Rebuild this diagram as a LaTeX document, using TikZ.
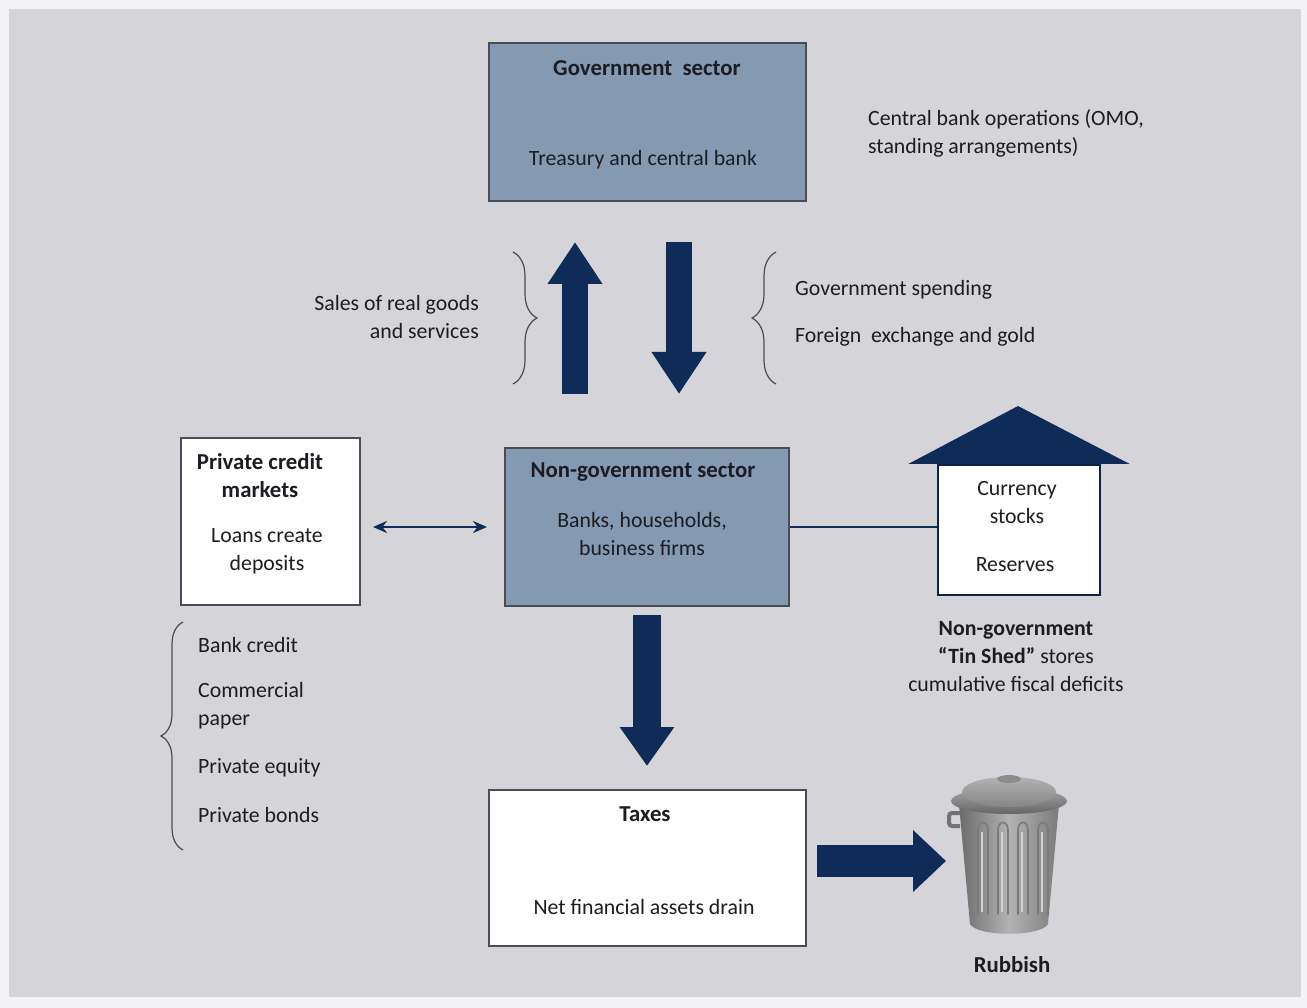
\documentclass[tikz,border=0pt]{standalone}
\usepackage{fontspec}
\setmainfont{Carlito}
\usetikzlibrary{arrows.meta,decorations.pathreplacing,calc}

\definecolor{navy}{HTML}{0F2B57}
\definecolor{steel}{HTML}{8499B2}
\definecolor{panel}{HTML}{D4D4D9}
\definecolor{paper}{HTML}{F3F3F5}
\definecolor{ink}{HTML}{1C1C22}
\definecolor{frame}{HTML}{4C4C56}

\tikzset{
  bluebox/.style={draw=frame, line width=2pt, fill=steel, inner sep=0pt},
  whitebox/.style={draw=frame, line width=2pt, fill=white, inner sep=0pt},
  shedbox/.style={draw=navy!80!black, line width=2.5pt, fill=white, inner sep=0pt},
  txt/.style={text=ink, inner sep=1pt},
  ttl/.style={txt, font=\fontsize{22.8}{28}\selectfont\bfseries},
  vbig/.style={navy, line width=26pt, -{Triangle[width=52pt,length=42pt]}},
  thin arrow/.style={navy, line width=2.5pt, {Stealth[width=12pt,length=14pt]}-{Stealth[width=12pt,length=14pt]}},
  bracestyle/.style={draw=black!70, line width=1.2pt, decorate},
}

\begin{document}
\begin{tikzpicture}[x=1pt, y=-1pt, font=\fontsize{21.8}{28}\selectfont]
  % page and panel
  \fill[paper] (0,0) rectangle (1307,1008);
  \fill[panel] (9,9) rectangle (1301,997);
  \useasboundingbox (0,0) rectangle (1307,1008);

  % government sector
  \node[bluebox, minimum width=317pt, minimum height=158pt] (gov) at (647.5,122) {};
  \node[ttl] (govt) at (647,68) {Government\ \ sector};
  \node[txt] (govb) at (643,160) {Treasury and central bank};

  \node[txt, anchor=west, align=left] (cbops) at (867,133)
    {Central bank operations (OMO,\\standing arrangements)};

  % non-government sector
  \node[bluebox, minimum width=284pt, minimum height=158pt] (ngov) at (647,527) {};
  \node[ttl] (ngovt) at (643,472) {Non-government sector};
  \node[txt, align=center] (ngovb) at (642,534) {Banks, households,\\business firms};

  % private credit markets
  \node[whitebox, minimum width=179pt, minimum height=167pt] (pcm) at (270.5,521.5) {};
  \node[ttl, align=center] (pcmt) at (260,476) {Private credit\\markets};
  \node[txt, align=center] (pcmb) at (267,551) {Loans create\\deposits};

  % taxes
  \node[whitebox, minimum width=317pt, minimum height=156pt] (tax) at (647.5,868) {};
  \node[ttl] (taxt) at (645,814) {Taxes};
  \node[txt] (taxb) at (644,907) {Net financial assets drain};

  % tin shed
  \node[shedbox, minimum width=162pt, minimum height=130pt] (shed) at (1019,530) {};
  \fill[navy] ($(shed.north west)+(-28,0)$) -- (1018,406) -- ($(shed.north east)+(28,0)$) -- cycle;
  \node[txt, align=center] (shedt) at (1017,503) {Currency\\stocks};
  \node[txt] (shedr) at (1015,565) {Reserves};
  \node[txt, align=center] (shedcap) at (1016,657)
    {\textbf{Non-government}\\\textbf{“Tin Shed”} stores\\cumulative fiscal deficits};

  % flows between the sectors
  \coordinate (upx) at (575,0);
  \coordinate (dnx) at (679,0);
  \draw[vbig, shorten <=53pt, shorten >=40pt] (ngov.north -| upx) -- (gov.south -| upx);
  \draw[vbig, shorten <=40pt, shorten >=53pt] (gov.south -| dnx) -- (ngov.north -| dnx);

  \draw[bracestyle, decoration={brace, amplitude=24pt}] (513,252) -- (513,384);
  \node[txt, anchor=east, align=right] (sales) at (480,317) {Sales of real goods\\and services};

  \draw[bracestyle, decoration={brace, amplitude=24pt}] (776,384) -- (776,252);
  \node[txt, anchor=west] (spend) at (794,290) {Government spending};
  \node[txt, anchor=west] (forex) at (794,337) {Foreign\ \ exchange and gold};

  % credit markets link
  \draw[thin arrow, shorten <=12pt, shorten >=17pt] (pcm.east |- ngov.west) -- (ngov.west);

  % link to the tin shed
  \draw[navy, line width=2pt] (ngov.east) -- (ngov.east -| shed.west);

  % private credit instruments
  \draw[bracestyle, decoration={brace, amplitude=22pt}] (183,850) -- (183,622);
  \node[txt, anchor=west] (bc) at (197,645) {Bank credit};
  \node[txt, anchor=west, align=left] (cp) at (197,706) {Commercial\\paper};
  \node[txt, anchor=west] (pe) at (197,768) {Private equity};
  \node[txt, anchor=west] (pb) at (197,815) {Private bonds};

  % taxation drain
  \draw[navy, line width=28pt, -{Triangle[width=52pt,length=39pt]},
        shorten <=8pt, shorten >=23pt] (ngov.south) -- (ngov.south |- tax.north);

  % rubbish bin
  \coordinate (bin) at (950,861);
  \draw[navy, line width=32pt, -{Triangle[width=60pt,length=33pt]},
        shorten <=10pt, shorten >=4pt] (tax.east |- bin) -- (bin);

  % bin body
  \shade[left color=black!58, right color=black!52, middle color=black!30]
    (959,804) -- (1059,804) -- (1048,924) .. controls (1041,937) and (977,937) .. (970,924) -- cycle;
  \foreach \rx in {978,998,1018,1038} {
    \draw[black!52, line width=1.6pt, line cap=round]
      (\rx,914) -- (\rx,830) .. controls (\rx,820) and (\rx+10,820) .. (\rx+10,830) -- (\rx+10,914);
    \draw[black!18, line width=1.2pt] (\rx+4,912) -- (\rx+4,832);
  }
  % side handle
  \draw[black!55, line width=4pt, rounded corners=3pt] (960,813) -- (949,813) -- (949,826) -- (960,826);
  % lid
  \shade[top color=black!35, bottom color=black!60] (1009,801) ellipse (58pt and 13pt);
  \shade[top color=black!30, bottom color=black!48] (1009,792) ellipse (47pt and 15pt);
  \fill[black!45] (1009,779) ellipse (12pt and 4pt);
  \node[ttl] (rub) at (1012,965) {Rubbish};
\end{tikzpicture}
\end{document}
